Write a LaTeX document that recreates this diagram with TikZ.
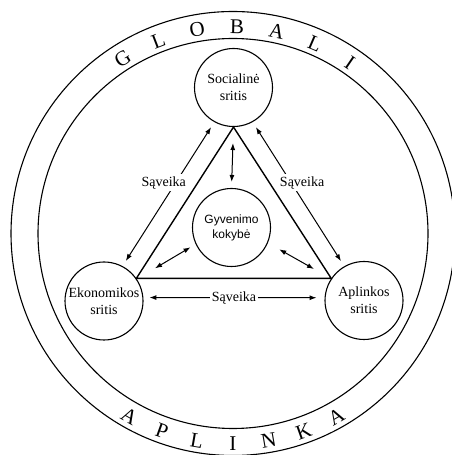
\documentclass[tikz,border=0pt]{standalone}
\usepackage{fontspec}
\setmainfont{Liberation Serif}
\newfontfamily\gyvfont{Liberation Sans}
\usetikzlibrary{arrows.meta,calc}

\begin{document}
\begin{tikzpicture}[
  x=1pt,y=1pt,
  every node/.style={font=\fontsize{14}{17}\selectfont,align=center},
  area/.style={circle,draw,line width=1.1pt,minimum size=78pt,inner sep=0pt},
  band/.style={draw,line width=1.1pt},
  tri/.style={line width=1.4pt,line join=miter},
  arr/.style={{Latex[length=7pt,width=5pt]}-{Latex[length=7pt,width=5pt]},line width=1pt},
  lbl/.style={fill=white,inner sep=2pt},
  letter/.style={font=\fontsize{21}{21}\selectfont,inner sep=0pt}
]
\useasboundingbox (0,0) rectangle (451,455);
\coordinate (c) at (233,221.5);
\draw[band] (c) circle[radius=222];
\draw[band] (c) circle[radius=195];
\foreach \ch [count=\i, evaluate=\i as \a using 122.2-11.1*(\i-1)] in {G,L,O,B,A,L,I}
  \node[letter,rotate=\a-90] at ($(c)+(\a:207)$) {\ch};
\foreach \ch [count=\i, evaluate=\i as \a using 240.4+9.85*(\i-1)] in {A,P,L,I,N,K,A}
  \node[letter,rotate=\a+90] at ($(c)+(\a:210)$) {\ch};

\node[area] (soc) at (233.5,367.5) {Socialinė\\sritis};
\node[area,font=\gyvfont\fontsize{12}{15}\selectfont] (gyv) at (231.5,227.5) {Gyvenimo\\kokybė};
\node[area] (eko) at (104,154) {Ekonomikos\\sritis};
\node[area] (apl) at (364,154.5) {Aplinkos\\sritis};
\coordinate (ql) at (155,186.7);
\coordinate (qr) at (314,186);

\draw[tri] (soc.south) -- (eko.35) -- (apl.146) -- cycle;
\draw[arr,shorten <=6pt,shorten >=6pt] (soc.241) -- node[lbl,pos=.42,xshift=-12pt] {Sąveika} (eko.62);
\draw[arr,shorten <=6pt,shorten >=6pt] (soc.299) -- node[lbl,pos=.42,xshift=11pt] {Sąveika} (apl.120);
\draw[arr,shorten <=6pt,shorten >=8pt] (eko.5) -- node[lbl] {Sąveika} (apl.176);
\draw[arr,shorten <=16pt,shorten >=6pt] (soc.south) -- (gyv.north);
\draw[arr,shorten <=6pt] (gyv.205) -- (ql);
\draw[arr,shorten <=13pt] (gyv.337) -- (qr);
\end{tikzpicture}
\end{document}
